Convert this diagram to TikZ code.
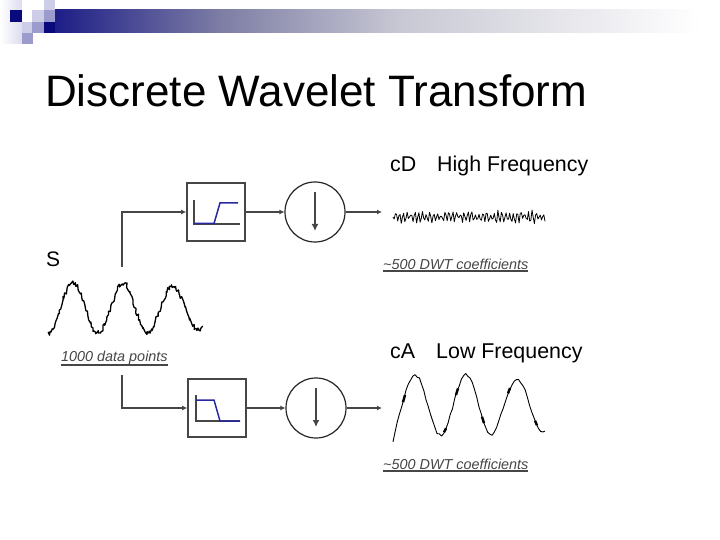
\documentclass[tikz,border=0pt]{standalone}
\usepackage{fontspec}
\setmainfont{Liberation Sans}
\usetikzlibrary{arrows.meta}
\definecolor{navy}{RGB}{10,10,125}
\definecolor{lav}{RGB}{155,155,205}
\definecolor{lavl}{RGB}{205,205,232}
\definecolor{gline}{RGB}{70,70,70}
\definecolor{fblue}{RGB}{40,40,160}
\definecolor{gmid}{RGB}{125,125,165}
\definecolor{gpale}{RGB}{200,200,212}
\tikzset{
 x=1pt,y=-1pt,
 conn/.style={draw=gline,line width=1.1pt,-{Latex[length=5pt,width=5pt]}},
 filterbox/.style={draw=gline,line width=1.7pt,minimum size=58pt,inner sep=0pt},
 downcirc/.style={draw=black!85,circle,line width=1.2pt,minimum size=60pt,inner sep=0pt},
 downarrow/.style={draw=gline,line width=1.5pt,-{Latex[length=7pt,width=7pt]}},
 axisline/.style={draw=gline,line width=1.3pt},
 respline/.style={draw=fblue,line width=1.5pt},
 wave/.style={draw=black,line join=round},
 blob/.style={draw=black,line width=2.4pt},
 caption/.style={font=\itshape\fontsize{14.4}{16}\selectfont,inner sep=0pt,anchor=base west,text=gline},
 uline/.style={draw=gline,line width=1.6pt},
 heading/.style={font=\fontsize{21.4}{25}\selectfont,inner sep=0pt,anchor=base west,text=black},
}
\begin{document}
\begin{tikzpicture}
\useasboundingbox (0,0) rectangle (720,540);
\fill[white] (0,0) rectangle (720,540);
% header
\fill[left color=navy!92!white,right color=gmid] (55,10) rectangle (220,33);
\fill[left color=gmid,right color=gpale] (220,10) rectangle (400,33);
\fill[left color=gpale,right color=white] (400,10) rectangle (700,33);
\fill[left color=white,right color=lavl!70!white] (0,0) rectangle (22,44);
\fill[white] (22,0) rectangle (44,10);
\fill[navy] (10,10) rectangle (22,22);
\fill[lavl] (32,10) rectangle (44,22);
\fill[lav] (44,10) rectangle (55,22);
\fill[lavl] (44,0) rectangle (55,10);
\fill[lavl] (22,22) rectangle (32,33);
\fill[lav] (32,22) rectangle (44,33);
\fill[navy] (44,22) rectangle (55,33);
\fill[lav] (22,33) rectangle (33,44);
% title
\node[font=\fontsize{44}{50}\selectfont,inner sep=0pt,anchor=base west] (title) at (45,106.5) {Discrete Wavelet Transform};
% filters
\node[filterbox] (hp) at (216,212) {};
\node[filterbox] (lp) at (217,408) {};
\node[downcirc] (dh) at (315,212) {};
\node[downcirc] (dl) at (316,408) {};
\coordinate (su) at (122,267);
\coordinate (sl) at (122,375);
\coordinate (cd) at (382,212);
\coordinate (ca) at (382,408);
\draw[conn] (su) |- (hp.west);
\draw[conn] (sl) |- (lp.west);
\draw[conn] (hp) -- (dh);
\draw[conn] (lp) -- (dl);
\draw[conn] (dh) -- (cd);
\draw[conn] (dl) -- (ca);
% arrows in circles
\coordinate (dha) at (315,192);
\coordinate (dhb) at (315,231);
\coordinate (dla) at (316,388);
\coordinate (dlb) at (316,427);
\draw[downarrow] (dha) -- (dhb);
\draw[downarrow] (dla) -- (dlb);
% response high
\draw[axisline] (194,200) -- (194,224) -- (240,224);
\draw[respline] (194,223.5) -- (214,223.5) -- (220,203) -- (238,203);
% response low
\draw[axisline] (196,395) -- (196,421) -- (240,421);
\draw[respline] (196,400) -- (214,400) -- (220,421) -- (240,421);
% signals
\pgfmathsetseed{7}
\draw[wave,line width=1.3pt] plot[domain=48:202,samples=170,variable=\t]
 (\t+0.8*rand,{308-(\t<155?25:22)*cos(7.2*(\t-73))+2.4*rand});
\pgfmathsetseed{11}
\draw[wave,line width=0.8pt] plot[domain=0:152,samples=130,variable=\t]
 (\t+393,{217+(2+3.5*abs(sin(11*\t)))*sin(95*\t)+2*rand});
\pgfmathsetseed{3}
\draw[wave,line width=0.9pt] plot[domain=393:545,samples=70,variable=\t]
 (\t,{405-(\t<495?30:26)*cos(7.06*(\t-415))+1.5*rand+(\t<396?(396-\t)*3:0)});
\foreach \bx in {404,445,457,483,509,536}
 \draw[blob] plot[domain=\bx-1:\bx+1,samples=2,variable=\t]
  (\t,{405-(\t<495?30:26)*cos(7.06*(\t-415))});
% texts
\node[font=\fontsize{21}{24}\selectfont,inner sep=0pt,anchor=base west] (s) at (46,266) {S};
\node[caption] (c1) at (61,361) {1000 data points};
\draw[uline] (c1.base west |- 0,365) -- (168,365);
\node[heading] (hd) at (390,172) {cD};
\node[heading] (hf) at (437,172) {High Frequency};
\node[heading] (ad) at (390,358) {cA};
\node[heading] (af) at (436,358) {Low Frequency};
\node[caption] (k1) at (383,269) {\textasciitilde500 DWT coefficients};
\draw[uline] (k1.base west |- 0,271) -- (528,271);
\node[caption] (k2) at (383,469) {\textasciitilde500 DWT coefficients};
\draw[uline] (k2.base west |- 0,471) -- (528,471);
\end{tikzpicture}
\end{document}
